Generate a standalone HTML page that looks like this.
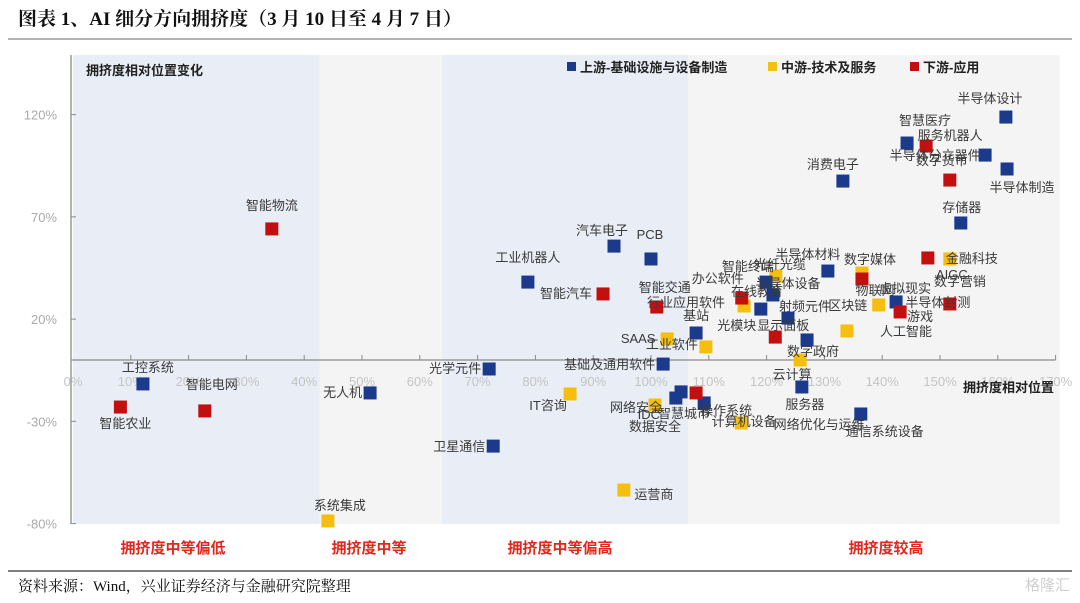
<!DOCTYPE html>
<html><head><meta charset="utf-8">
<style>
body{margin:0;background:#fff;width:1080px;height:598px;overflow:hidden;}
svg text{font-family:"Liberation Sans","Noto Sans CJK SC",sans-serif;}
.serif{font-family:"Liberation Serif","Noto Serif CJK SC",serif !important;}
</style></head>
<body>
<svg id="chart" width="1080" height="598" viewBox="0 0 1080 598" xmlns="http://www.w3.org/2000/svg">
  <text class="serif" x="18" y="25" font-size="19" font-weight="bold" fill="#111">图表 1、AI 细分方向拥挤度（3 月 10 日至 4 月 7 日）</text>
  <line x1="8" y1="39" x2="1072" y2="39" stroke="#9a9a9a" stroke-width="1.5"/>
  <g id="bands"></g>
  <g id="axes"></g>
  <g id="marks"></g>
  <g id="labels"></g>
  <text x="86" y="75" font-size="13" font-weight="bold" fill="#222">拥挤度相对位置变化</text>
  <g>
    <rect x="567" y="62" width="9" height="9" fill="#1b3a8c"/>
    <text x="580" y="72" font-size="13" font-weight="bold" fill="#222">上游-基础设施与设备制造</text>
    <rect x="768" y="62" width="9" height="9" fill="#f6bf0f"/>
    <text x="781" y="72" font-size="13" font-weight="bold" fill="#222">中游-技术及服务</text>
    <rect x="910" y="62" width="9" height="9" fill="#c21010"/>
    <text x="923" y="72" font-size="13" font-weight="bold" fill="#222">下游-应用</text>
  </g>
  <text x="963" y="392" font-size="13" font-weight="bold" fill="#222">拥挤度相对位置</text>
  <g font-size="15" font-weight="bold" fill="#e0281e" text-anchor="middle">
    <text x="173" y="553">拥挤度中等偏低</text>
    <text x="369" y="553">拥挤度中等</text>
    <text x="560" y="553">拥挤度中等偏高</text>
    <text x="886" y="553">拥挤度较高</text>
  </g>
  <line x1="8" y1="571" x2="1072" y2="571" stroke="#555" stroke-width="1.5"/>
  <text class="serif" x="18" y="591" font-size="15" fill="#111">资料来源：Wind，兴业证券经济与金融研究院整理</text>
  <text x="1070" y="590" font-size="15" fill="#d0d0d0" text-anchor="end">格隆汇</text>
</svg>
<script>
const xTicks = [0,10,20,30,40,50,60,70,80,90,100,110,120,130,140,150,160,170];
const yTicks = [120,70,20,-30,-80];
const bandEdges = [0, 42.7, 63.8, 106.4, 170.7];
const names = ["系统集成","IT咨询","网络安全","计算机设备","运营商","SAAS","工业软件","行业应用软件","智能终端","云计算","人工智能","区块链","物联网","AIGC",
"工控系统","无人机","光学元件","卫星通信","工业机器人","汽车电子","PCB","基础及通用软件","基站","IDC","智慧城市","操作系统","在线教育","半导体设备","光模块","射频元件","数字政府","半导体材料","虚拟现实","半导体设计","智慧医疗","半导体分立器件","半导体制造","消费电子","存储器","服务器","通信系统设备",
"智能物流","智能农业","智能电网","智能汽车","智能交通","办公软件","显示面板","数字媒体","游戏","服务机器人","数字货币","金融科技","半导体封测",""];
const xVals = [44.1,86.0,100.7,115.6,95.3,102.8,109.5,116.1,121.6,125.8,133.9,139.4,136.5,151.7,
12.1,51.4,72.0,72.7,78.7,93.6,100.0,102.1,107.8,104.3,105.2,109.2,121.1,119.9,119.0,123.7,127.0,130.6,142.4,161.4,144.3,157.8,161.6,133.2,153.6,126.1,136.3,
34.4,8.2,22.8,91.7,101.0,115.7,121.5,136.5,143.1,147.6,151.7,147.9,151.7,107.8];
const yVals = [-78.7,-16.6,-22.0,-30.8,-63.6,10.3,6.4,26.4,41.1,0,14.2,26.9,42.5,49.4,
-11.7,-16.1,-4.4,-42.1,38.1,55.7,49.4,-2.0,13.2,-18.6,-15.6,-21.0,31.8,38.1,24.9,20.5,9.8,43.5,28.4,118.8,106.1,100.2,93.4,87.5,67.0,-13.2,-26.4,
64.1,-23.0,-24.9,32.3,25.9,30.3,11.2,39.6,23.5,104.6,88.0,49.9,27.4,-16.1];
const groups = [1,1,1,1,1,1,1,1,1,1,1,1,1,1,
0,0,0,0,0,0,0,0,0,0,0,0,0,0,0,0,0,0,0,0,0,0,0,0,0,0,0,
2,2,2,2,2,2,2,2,2,2,2,2,2,2];
const extraLabels = ["","","数据安全","网络优化与运维","","","","","光纤光缆","","","","","数字营销",
"","","","","","","","","","","","","","","","","","","","","","","","","","","",
"","","","","","","","","","","","",""];
// label placement offsets (presentation only)
const lblDx = [12,-22,-19,3,30,-29,-34,-58,-28,-8,33,-31,13,2,
5,-8,-8,-8,0,-12,-1,-8,0,-27,3,22,-16,22,-24,17,6,-20,9,-16,18,-50,15,-10,1,3,24,
0,5,7,-37,8,-24,8,8,20,24,-8,44,-12,0];
const lblDy = [-16,11,2,-2,4,-1,-3,-4,-10,14,0,0,17,15,
-17,-1,-1,0,-25,-16,-25,0,-18,16,21,7,-4,1,16,-12,11,-17,-14,-19,-23,0,18,-17,-16,17,17,
-24,16,-27,-1,-20,-20,-12,-20,4,-11,-20,0,-2,0];
const lblAnchor = ["m","m","m","m","m","m","m","m","m","m","s","m","m","m",
"m","e","e","e","m","m","m","e","m","m","m","m","m","m","m","m","m","m","m","m","m","m","m","m","m","m","m",
"m","m","m","m","m","m","m","m","m","m","m","m","m","m"];
const extraDx = [0,0,0,78,0,0,0,0,4,0,0,0,0,10];
const extraDy = [0,0,21,1,0,0,0,0,-12,0,0,0,0,22];
const colors = ["#1b3a8c","#f6bf0f","#c21010"];
const NS = "http://www.w3.org/2000/svg";
const X0=73, XK=5.78, Y0=360, YK=2.045, TOP=55, BOT=524;
function xs(v){return X0+XK*v;}
function ys(v){return Y0-YK*v;}
function mk(tag, attrs){const e=document.createElementNS(NS,tag);for(const k in attrs)e.setAttribute(k,attrs[k]);return e;}
const bands=document.getElementById('bands');
const bandFills=["#e9edf6","#f4f4f5","#e9edf6","#f4f4f5"];
for(let i=0;i<bandEdges.length-1;i++){
  const r=mk('rect',{x:xs(bandEdges[i]),y:TOP,width:xs(bandEdges[i+1])-xs(bandEdges[i]),height:BOT-TOP,fill:bandFills[i]});
  
  
  bands.appendChild(r);
}
const axes=document.getElementById('axes');
const ya=mk('line',{x1:71,y1:TOP,x2:71,y2:BOT,stroke:'#8a8a8a','stroke-width':1.3});


axes.appendChild(ya);
const xa=mk('line',{x1:71,y1:ys(0),x2:xs(170),y2:ys(0),stroke:'#8a8a8a','stroke-width':1.3});


axes.appendChild(xa);
yTicks.forEach(t=>{
  const tk=mk('line',{x1:71,y1:ys(t),x2:76,y2:ys(t),stroke:'#8a8a8a'});
  
  
  axes.appendChild(tk);
  const lb=mk('text',{x:57,y:ys(t)+5,'font-size':13,fill:'#aaaaaa','text-anchor':'end'});
  lb.textContent=t+'%';
  
  
  axes.appendChild(lb);
});
xTicks.forEach(t=>{
  if(t>0){
    const tk=mk('line',{x1:xs(t),y1:ys(0),x2:xs(t),y2:ys(0)-5,stroke:'#8a8a8a'});
    
    
    axes.appendChild(tk);
  }
  const lb=mk('text',{x:xs(t),y:386,'font-size':13,fill:'#c4c4c4','text-anchor':'middle'});
  lb.textContent=t+'%';
  
  
  axes.appendChild(lb);
});
const marks=document.getElementById('marks');
const labels=document.getElementById('labels');
const order=[1,0,2];
order.forEach(g=>{
  for(let i=0;i<names.length;i++){
    if(groups[i]!==g) continue;
    const cx=xs(xVals[i]), cy=ys(yVals[i]);
    const r=mk('rect',{x:cx-6.5,y:cy-6.5,width:13,height:13,fill:colors[g]});
    
    
    marks.appendChild(r);
  }
});
for(let i=0;i<names.length;i++){
  const cx=xs(xVals[i]), cy=ys(yVals[i]);
  if(names[i]){
    const a=lblAnchor[i]==='e'?'end':(lblAnchor[i]==='s'?'start':'middle');
    const t=mk('text',{x:cx+lblDx[i],y:cy+lblDy[i]+5,'font-size':13,fill:'#3a3a3a','text-anchor':a});
    t.textContent=names[i];
    
    
    labels.appendChild(t);
  }
  if(extraLabels[i]){
    const t=mk('text',{x:cx+extraDx[i],y:cy+extraDy[i]+5,'font-size':13,fill:'#3a3a3a','text-anchor':'middle'});
    t.textContent=extraLabels[i];
    
    
    labels.appendChild(t);
  }
}
</script>
</body></html>
